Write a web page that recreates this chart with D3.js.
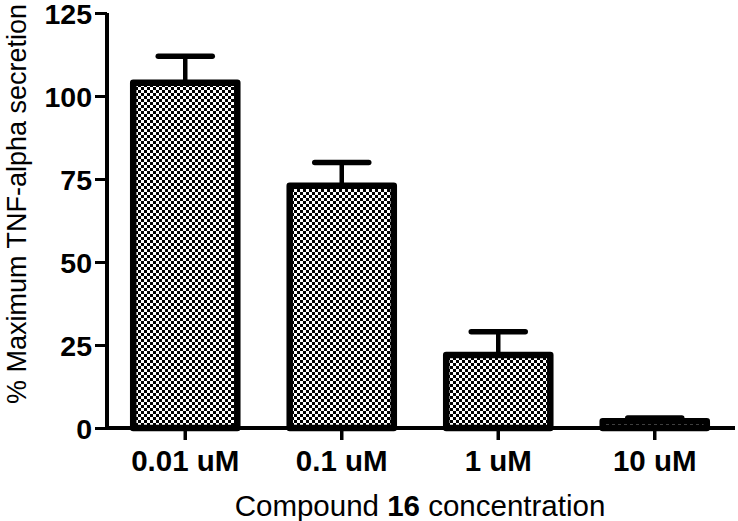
<!DOCTYPE html>
<html><head><meta charset="utf-8">
<script src="https://cdn.jsdelivr.net/npm/d3@7"></script>
<style>body{margin:0;background:#fff}svg{display:block}text{font-family:"Liberation Sans",Arial,sans-serif}</style>
</head><body>
<script>
const categories = ["0.01 uM", "0.1 uM", "1 uM", "10 uM"];
const means = [104, 73, 22, 2];
const upperErr = [112, 80, 29, 3];
const yTicks = [0, 25, 50, 75, 100, 125];

const W = 738, H = 521;
const svg = d3.select("body").append("svg").attr("width", W).attr("height", H);
const x = d3.scaleBand().domain(categories).range([107, 733]).paddingInner(0.335).paddingOuter(0.1675);
const y = d3.scaleLinear().domain([0, 125]).range([428, 13]);

const defs = svg.append("defs");
const pat = defs.append("pattern").attr("id", "chk").attr("patternUnits", "userSpaceOnUse")
  .attr("width", 6).attr("height", 6);
pat.append("rect").attr("width", 6).attr("height", 6).attr("fill", "#fff");
pat.append("rect").attr("x", 0).attr("y", 0).attr("width", 3).attr("height", 3).attr("fill", "#000");
pat.append("rect").attr("x", 3).attr("y", 3).attr("width", 3).attr("height", 3).attr("fill", "#000");

// error bars
const eg = svg.append("g");
categories.forEach((c, i) => {
  const cx = x(c) + x.bandwidth() / 2;
  eg.append("line").attr("x1", cx).attr("x2", cx).attr("y1", y(means[i])).attr("y2", y(upperErr[i]))
    .attr("stroke", "#000").attr("stroke-width", 4.5);
  eg.append("line").attr("x1", cx - 27).attr("x2", cx + 27).attr("y1", y(upperErr[i])).attr("y2", y(upperErr[i]))
    .attr("stroke", "#000").attr("stroke-width", 5.5).attr("stroke-linecap", "round");
});

// bars
svg.append("g").selectAll("rect").data(categories).join("rect")
  .attr("x", d => x(d)).attr("width", x.bandwidth())
  .attr("y", (d, i) => y(means[i])).attr("height", (d, i) => y(0) - y(means[i]))
  .attr("fill", "url(#chk)").attr("stroke", "#000").attr("stroke-width", 6.5)
  .attr("stroke-linejoin", "round");

// y axis
const ya = svg.append("g").attr("transform", "translate(107,0)")
  .call(d3.axisLeft(y).tickValues(yTicks).tickSize(12).tickPadding(3).tickFormat(d3.format("d")));
ya.select(".domain").attr("stroke-width", 4).attr("d", `M0,${y(125)}V${y(0)+2}`);
ya.selectAll(".tick line").attr("stroke-width", 3);
ya.selectAll(".tick text").attr("font-size", 28.5).attr("font-weight", "bold").attr("fill", "#000")
  .attr("dy", "0.37em").attr("font-family", "Liberation Sans, Arial, sans-serif");

// x axis
const xa = svg.append("g").attr("transform", `translate(0,${y(0)})`)
  .call(d3.axisBottom(x).tickSize(12).tickPadding(10));
xa.select(".domain").attr("stroke-width", 4).attr("d", "M105,0H735");
xa.selectAll(".tick line").attr("stroke-width", 3.5);
xa.selectAll(".tick text").attr("font-size", 29.5).attr("font-weight", "bold").attr("fill", "#000")
  .attr("font-family", "Liberation Sans, Arial, sans-serif");

// axis titles
const xt = svg.append("text").attr("x", 420).attr("y", 516).attr("text-anchor", "middle")
  .attr("font-size", 29.5).attr("fill", "#000");
xt.append("tspan").text("Compound ");
xt.append("tspan").attr("font-weight", "bold").text("16");
xt.append("tspan").text(" concentration");

svg.append("text").attr("transform", "translate(26,204) rotate(-90)").attr("text-anchor", "middle")
  .attr("font-size", 27).attr("fill", "#000").text("% Maximum TNF-alpha secretion");
</script>
</body></html>
